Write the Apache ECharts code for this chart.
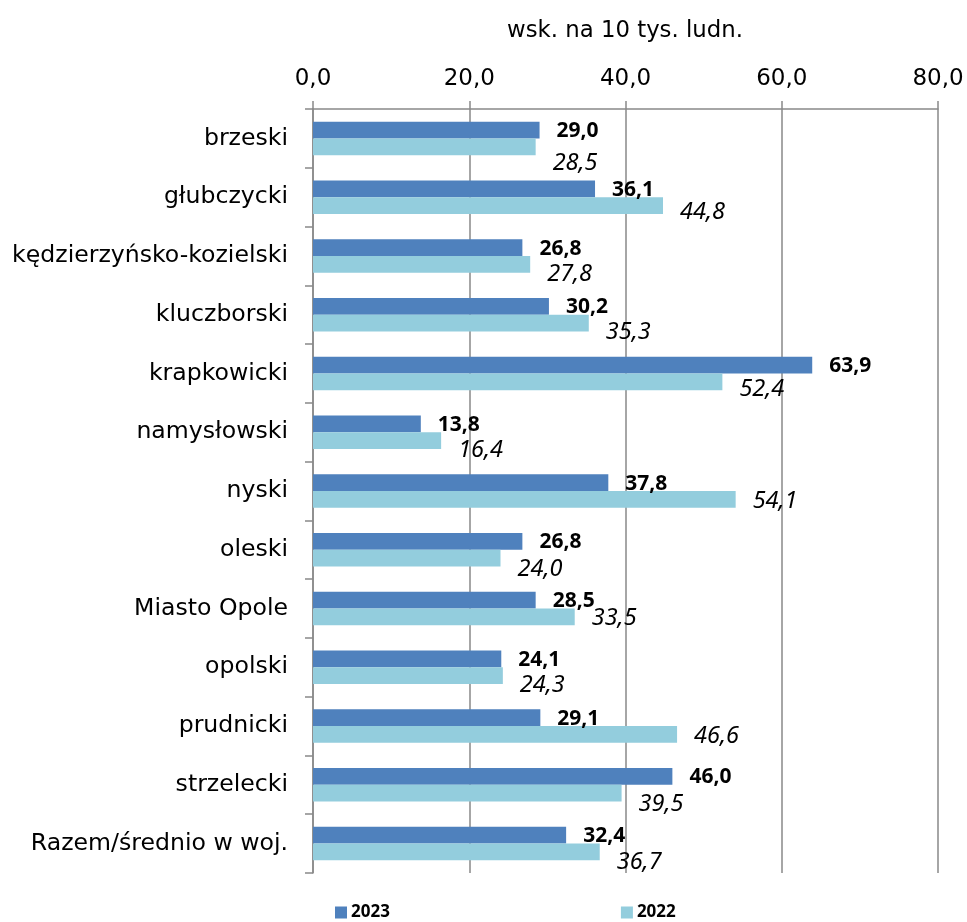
<!DOCTYPE html>
<html><head><meta charset="utf-8">
<script src="https://cdn.jsdelivr.net/npm/echarts@6/dist/echarts.min.js"></script>
<style>html,body{margin:0;padding:0;background:#fff}#c{width:967px;height:922px}</style>
</head><body><div id="c"></div>
<script>
const categories = ['brzeski','głubczycki','kędzierzyńsko-kozielski','kluczborski','krapkowicki','namysłowski','nyski','oleski','Miasto Opole','opolski','prudnicki','strzelecki','Razem/średnio w woj.'];
const values2023 = [29.0,36.1,26.8,30.2,63.9,13.8,37.8,26.8,28.5,24.1,29.1,46.0,32.4];
const values2022 = [28.5,44.8,27.8,35.3,52.4,16.4,54.1,24.0,33.5,24.3,46.6,39.5,36.7];
const axisTitle = 'wsk. na 10 tys. ludn.';
const seriesNames = ['2023','2022'];
const xTicks = [0,20,40,60,80];

// manual vertical nudges of the 2022 value labels (as placed in the original)
const labelNudge2022 = [16.7,6.4,10,9.5,7,10,2,10.7,1,9.5,1.7,10.7,10];

const fmt = v => v.toFixed(1).replace('.', ',');
const GRAY = '#898989';
const chart = echarts.init(document.getElementById('c'), null, {renderer:'canvas'});
chart.setOption({
  animation:false,
  backgroundColor:'#fff',
  title:{text:axisTitle,left:620,top:15,textAlign:'center',
    textStyle:{fontFamily:'DejaVu Sans',fontSize:22.8,fontWeight:'normal',color:'#000'}},
  grid:{left:313,right:29,top:109,bottom:49,containLabel:false},
  legend:{top:899,left:330,itemGap:231,itemWidth:12,itemHeight:12,icon:'rect',
    textStyle:{fontFamily:'Noto Sans',fontWeight:'bold',fontSize:17,color:'#000',padding:[0,0,0,-1]},data:seriesNames},
  xAxis:{type:'value',position:'top',min:xTicks[0],max:xTicks[xTicks.length-1],interval:xTicks[1]-xTicks[0],
    axisLine:{show:true,lineStyle:{color:GRAY,width:1.5}},
    axisTick:{show:true,length:8,lineStyle:{color:GRAY,width:1.5}},
    axisLabel:{formatter:v=>fmt(v),fontFamily:'DejaVu Sans',fontSize:23,color:'#000',margin:18},
    splitLine:{show:true,lineStyle:{color:GRAY,width:1.5}}},
  yAxis:{type:'category',inverse:true,data:categories,
    axisLine:{show:true,lineStyle:{color:GRAY,width:1.5}},
    axisTick:{show:true,length:8,lineStyle:{color:GRAY,width:1.5}},
    axisLabel:{fontFamily:'DejaVu Sans',fontSize:23.6,color:'#000',margin:25}},
  series:[
    {name:'2023',type:'bar',data:values2023,barGap:'0%',barCategoryGap:'43%',
     itemStyle:{color:'#4F81BD'},
     label:{show:true,position:'right',distance:17,formatter:p=>fmt(p.value),
       fontFamily:'Noto Sans',fontWeight:'bold',fontSize:21,color:'#000',offset:[0,1]}},
    {name:'2022',type:'bar',
     data:values2022.map((v,i)=>({value:v,label:{offset:[0,labelNudge2022[i]]}})),
     itemStyle:{color:'#93CDDD'},
     label:{show:true,position:'right',distance:17,formatter:p=>fmt(p.value),
       fontFamily:'Noto Sans',fontStyle:'italic',fontSize:23.5,color:'#000'}}
  ]
});
</script></body></html>
